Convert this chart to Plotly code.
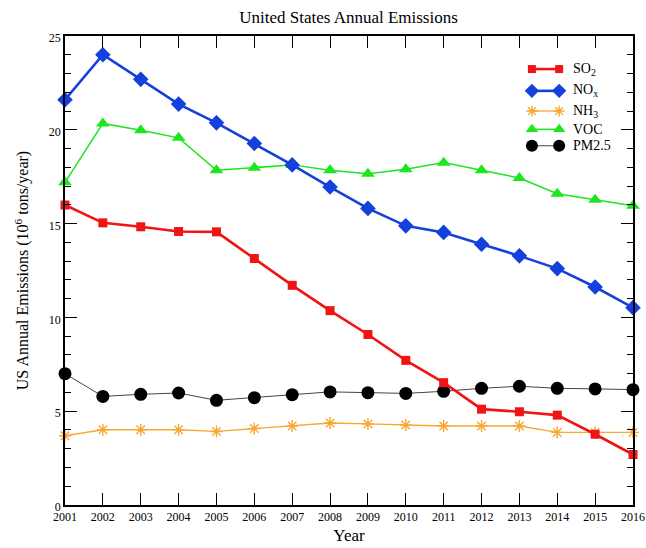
import plotly.graph_objects as go

years = list(range(2001, 2017))
so2 = [15.99, 15.04, 14.83, 14.58, 14.56, 13.14, 11.71, 10.36, 9.09, 7.71, 6.52, 5.11, 4.97, 4.79, 3.77, 2.69]
nox = [21.6, 24.0, 22.69, 21.37, 20.37, 19.27, 18.13, 16.95, 15.81, 14.88, 14.53, 13.9, 13.28, 12.6, 11.62, 10.52]
nh3 = [3.69, 4.01, 4.01, 4.01, 3.92, 4.08, 4.21, 4.37, 4.32, 4.26, 4.21, 4.21, 4.21, 3.87, 3.87, 3.87]
voc = [17.2, 20.34, 19.98, 19.57, 17.84, 17.98, 18.13, 17.84, 17.66, 17.9, 18.25, 17.84, 17.43, 16.59, 16.27, 15.95]
pm25 = [7.0, 5.79, 5.9, 5.97, 5.58, 5.72, 5.88, 6.03, 5.99, 5.95, 6.06, 6.22, 6.33, 6.22, 6.19, 6.15]

series_names = ["SO<sub>2</sub>", "NO<sub>x</sub>", "NH<sub>3</sub>", "VOC", "PM2.5"]
series_values = [so2, nox, nh3, voc, pm25]

styles = [
    dict(color="#f01414", width=2.6, symbol="square", size=9, mline=0),
    dict(color="#1440dc", width=2.6, symbol="diamond", size=12, mline=0),
    dict(color="#f7a833", width=1.3, symbol="asterisk-open", size=10, mline=1.4),
    dict(color="#1ee61e", width=1.5, symbol="triangle-up", size=12, mline=0),
    dict(color="#000000", width=1.0, symbol="circle", size=13, mline=0),
]
line_colors = ["#f01414", "#1440dc", "#f7a833", "#1ee61e", "#444444"]

FONT = "Liberation Serif"

fig = go.Figure()

# draw in back-to-front order so the black PM2.5 line sits beneath red SO2
order = [4, 2, 3, 1, 0]
for i in order:
    s = styles[i]
    fig.add_trace(go.Scatter(
        x=years, y=series_values[i], mode="lines+markers",
        line=dict(color=line_colors[i], width=s["width"]),
        marker=dict(symbol=s["symbol"], size=s["size"], color=s["color"],
                    line=dict(color=s["color"], width=s["mline"])),
        cliponaxis=False, showlegend=False,
    ))

# hand-drawn legend on an overlay axis: a short line with a marker at each end
leg_y = [0.9295, 0.883, 0.840, 0.801, 0.766]
for i in range(5):
    s = styles[i]
    fig.add_trace(go.Scatter(
        x=[0.822, 0.870], y=[leg_y[i], leg_y[i]], mode="lines+markers",
        xaxis="x2", yaxis="y2",
        line=dict(color=line_colors[i], width=s["width"]),
        marker=dict(symbol=s["symbol"], size=s["size"] - 1, color=s["color"],
                    line=dict(color=s["color"], width=s["mline"])),
        cliponaxis=False, showlegend=False, hoverinfo="skip",
    ))
    fig.add_annotation(
        x=0.8905, y=leg_y[i], xref="paper", yref="paper",
        text=series_names[i], showarrow=False, xanchor="left", yanchor="middle",
        font=dict(family=FONT, size=14, color="black"),
    )

axis_common = dict(
    showline=True, linecolor="black", linewidth=1.5, mirror="ticks",
    ticks="inside", tickcolor="black", tickwidth=1.2, ticklen=12,
    showgrid=False, zeroline=False, automargin=False,
    tickfont=dict(family=FONT, size=12, color="black"),
)

fig.update_layout(
    width=646, height=548,
    margin=dict(l=65, r=13, t=36, b=43),
    paper_bgcolor="white", plot_bgcolor="white",
    title=dict(text="United States Annual Emissions", x=0.5395, xanchor="center",
               y=0.968, yanchor="middle",
               font=dict(family=FONT, size=17, color="black")),
    xaxis=dict(range=[2001, 2016], tickmode="array", tickvals=years,
               ticktext=[str(y) for y in years],
               title=dict(text="Year", font=dict(family=FONT, size=17, color="black"),
                          standoff=6),
               **axis_common),
    yaxis=dict(range=[0, 25], tickmode="array", tickvals=[0, 5, 10, 15, 20, 25],
               ticklabelshift=2,
               minor=dict(tickmode="linear", tick0=0, dtick=1, ticks="inside",
                          ticklen=6, tickcolor="black", tickwidth=1.2),
               title=dict(text="US Annual Emissions (10<sup>6</sup> tons/year)",
                          font=dict(family=FONT, size=16, color="black"), standoff=16),
               **axis_common),
    xaxis2=dict(range=[0, 1], overlaying="x", visible=False, fixedrange=True),
    yaxis2=dict(range=[0, 1], overlaying="y", visible=False, fixedrange=True),
)

fig.write_html("out.html")
